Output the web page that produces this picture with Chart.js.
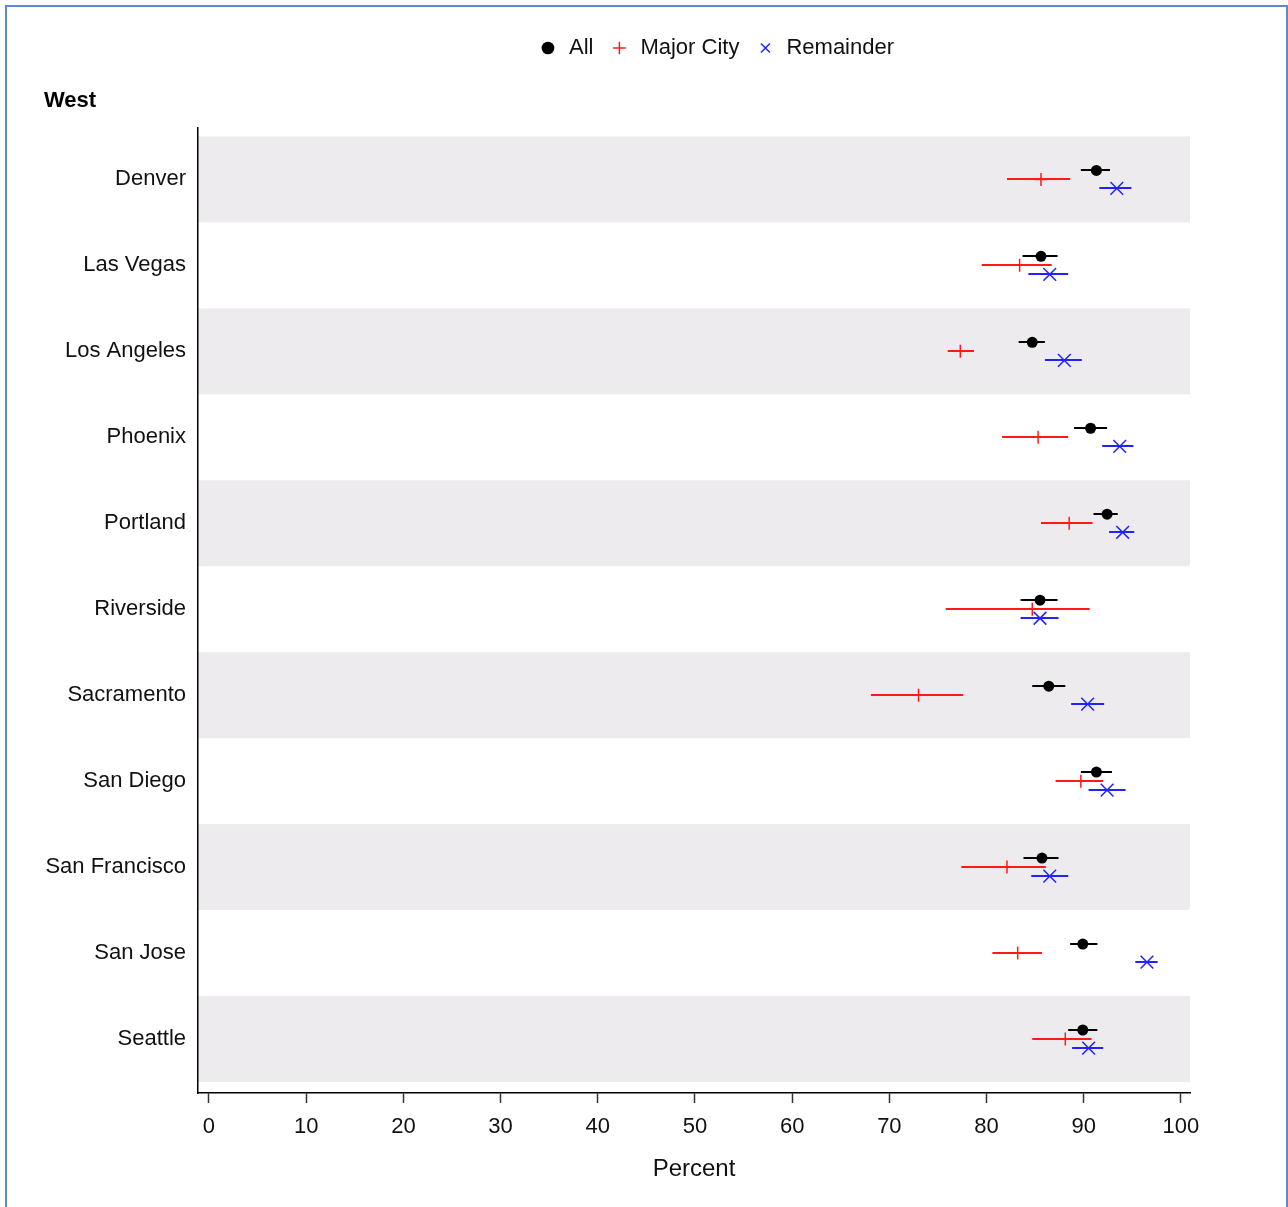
<!DOCTYPE html>
<html>
<head>
<meta charset="utf-8">
<title>West</title>
<script src="https://cdn.jsdelivr.net/npm/chart.js@4.4.1/dist/chart.umd.min.js"></script>
<style>
  html, body { margin: 0; padding: 0; background: #fff; }
  #wrap { position: relative; width: 1288px; height: 1207px; overflow: hidden; background: #fff; }
  #frame { position: absolute; left: 5px; top: 5px; width: 1279px; height: 1300px;
           border: 2px solid #5b8bcb; border-bottom: none; pointer-events: none; }
  canvas { display: block; }
</style>
</head>
<body>
<div id="wrap">
  <canvas id="chart" width="1288" height="1207"></canvas>
  <div id="frame"></div>
</div>
<script>
// Cities, one row each
const categories = ['Denver', 'Las Vegas', 'Los Angeles', 'Phoenix', 'Portland', 'Riverside',
                    'Sacramento', 'San Diego', 'San Francisco', 'San Jose', 'Seattle'];

// Estimates (percent) with lower / upper interval limits
const allMean   = [91.3, 85.6, 84.7, 90.7, 92.4, 85.5, 86.4, 91.3, 85.7, 89.9, 89.9];
const allLow    = [89.7, 83.7, 83.3, 89.0, 91.0, 83.5, 84.7, 89.7, 83.8, 88.6, 88.4];
const allHigh   = [92.7, 87.3, 86.0, 92.4, 93.5, 87.3, 88.1, 92.9, 87.4, 91.4, 91.4];

const majorMean = [85.6, 83.4, 77.3, 85.3, 88.5, 84.7, 73.0, 89.7, 82.1, 83.2, 88.1];
const majorLow  = [82.1, 79.5, 76.0, 81.6, 85.6, 75.8, 68.1, 87.1, 77.4, 80.6, 84.7];
const majorHigh = [88.6, 86.7, 78.7, 88.4, 90.9, 90.6, 77.6, 92.0, 86.1, 85.7, 90.8];

const remMean   = [93.4, 86.5, 88.0, 93.7, 94.0, 85.5, 90.4, 92.4, 86.5, 96.5, 90.5];
const remLow    = [91.6, 84.3, 86.0, 91.9, 92.6, 83.5, 88.7, 90.5, 84.6, 95.3, 88.8];
const remHigh   = [94.9, 88.4, 89.8, 95.1, 95.2, 87.4, 92.1, 94.3, 88.4, 97.6, 92.0];

// X axis tick labels
const xTicks = [0, 10, 20, 30, 40, 50, 60, 70, 80, 90, 100];

const FONT = "'Liberation Sans', Arial, Helvetica, sans-serif";
const TEXT = '#111111';
const ROW_SHIFT = 0.105;   // vertical offset of the three series inside a row

const series = [
  { label: 'All',        mean: allMean,   low: allLow,   high: allHigh,   color: '#000000', shift: -ROW_SHIFT, style: 'circle',   radius: 5.5 },
  { label: 'Major City', mean: majorMean, low: majorLow, high: majorHigh, color: '#ff1a1a', shift: 0,          style: 'cross',    radius: 6.5 },
  { label: 'Remainder',  mean: remMean,   low: remLow,   high: remHigh,   color: '#2222ff', shift: ROW_SHIFT,  style: 'crossRot', radius: 9 }
];

// Alternating shaded row bands behind everything
const rowBands = {
  id: 'rowBands',
  beforeDraw(chart) {
    const { ctx, chartArea: a, scales: { y } } = chart;
    ctx.save();
    ctx.fillStyle = '#eeebee';
    categories.forEach((c, i) => {
      if (i % 2 !== 0) return;
      const t = y.getPixelForValue(i - 0.5);
      const b = y.getPixelForValue(i + 0.5);
      ctx.fillRect(a.left, Math.min(t, b), a.right - a.left, Math.abs(b - t));
    });
    ctx.restore();
  }
};

// Horizontal interval lines under each marker
const intervalLines = {
  id: 'intervalLines',
  beforeDatasetsDraw(chart) {
    const { ctx, scales: { x, y } } = chart;
    ctx.save();
    ctx.lineWidth = 2;
    series.forEach(s => {
      ctx.strokeStyle = s.color;
      s.low.forEach((lo, i) => {
        const py = Math.round(y.getPixelForValue(i + s.shift));
        ctx.beginPath();
        ctx.moveTo(x.getPixelForValue(lo), py);
        ctx.lineTo(x.getPixelForValue(s.high[i]), py);
        ctx.stroke();
      });
    });
    ctx.restore();
  }
};

// Legend sits a little right of the plot centre
const legendOffset = {
  id: 'legendOffset',
  afterLayout(chart) {
    chart.legend.left += 22;
    chart.legend.right += 22;
  }
};

new Chart(document.getElementById('chart'), {
  type: 'scatter',
  data: {
    datasets: series.map(s => ({
      label: s.label,
      data: s.mean.map((v, i) => ({ x: v, y: i + s.shift })),
      pointStyle: s.style,
      pointRadius: s.radius,
      pointHoverRadius: s.radius,
      backgroundColor: s.color,
      borderColor: s.color,
      borderWidth: s.style === 'circle' ? 0 : 1.5,
      showLine: false
    }))
  },
  options: {
    responsive: false,
    animation: false,
    devicePixelRatio: 1,
    layout: { padding: { left: 44, right: 98, top: 21, bottom: 0 } },
    plugins: {
      legend: {
        position: 'top',
        fullSize: false,
        labels: {
          usePointStyle: true,
          boxWidth: 20,
          boxHeight: 9,
          padding: 16,
          color: TEXT,
          font: { family: FONT, size: 22 }
        }
      },
      title: {
        display: true,
        text: 'West',
        align: 'start',
        weight: 500,
        color: '#000',
        font: { family: FONT, size: 22, weight: 'bold' },
        padding: { top: 19, bottom: 13 }
      },
      tooltip: { enabled: true }
    },
    scales: {
      x: {
        type: 'linear',
        min: -1.13,
        max: 100.93,
        afterBuildTicks: s => { s.ticks = xTicks.map(v => ({ value: v })); },
        afterFit: s => { s.height = 114; },
        grid: { display: true, drawOnChartArea: false, drawTicks: true, tickLength: 10, tickColor: '#333', tickWidth: 1.5 },
        border: { display: true, color: '#000', width: 1.5 },
        ticks: { color: TEXT, font: { family: FONT, size: 22 }, padding: 11, maxRotation: 0, autoSkip: false },
        title: { display: true, text: 'Percent', color: TEXT, font: { family: FONT, size: 24 }, padding: { top: 0, bottom: 23 } }
      },
      y: {
        type: 'linear',
        reverse: true,
        min: -0.605,
        max: 10.628,
        afterBuildTicks: s => { s.ticks = categories.map((c, i) => ({ value: i })); },
        afterFit: s => { s.width = 154; },
        grid: { display: true, drawOnChartArea: false, drawTicks: false },
        border: { display: true, color: '#000', width: 1.5 },
        ticks: {
          callback: v => categories[v],
          color: TEXT,
          font: { family: FONT, size: 22 },
          padding: 12,
          autoSkip: false
        }
      }
    }
  },
  plugins: [rowBands, intervalLines, legendOffset]
});
</script>
</body>
</html>
